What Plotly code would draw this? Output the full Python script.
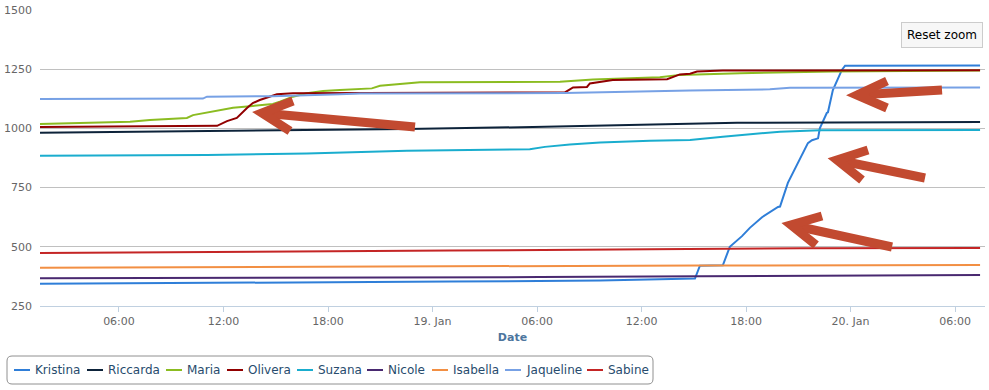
import plotly.graph_objects as go

# ---------------- data ----------------
names = ["Kristina", "Riccarda", "Maria", "Olivera", "Suzana",
         "Nicole", "Isabella", "Jaqueline", "Sabine"]
colors = ["#2f7ed8", "#0d233a", "#8bbc21", "#910000", "#1aadce",
          "#492970", "#f28f43", "#77a1e5", "#c42525"]

kristina_t = ["2016-01-18 01:28", "2016-01-18 13:31", "2016-01-19 01:00", "2016-01-19 09:37",
              "2016-01-19 15:04", "2016-01-19 15:21", "2016-01-19 16:40", "2016-01-19 17:04",
              "2016-01-19 17:46", "2016-01-19 18:13", "2016-01-19 18:55", "2016-01-19 19:50",
              "2016-01-19 19:57", "2016-01-19 20:24", "2016-01-19 20:59", "2016-01-19 21:33",
              "2016-01-19 21:47", "2016-01-19 22:08", "2016-01-19 22:14", "2016-01-19 22:38",
              "2016-01-19 22:42", "2016-01-19 22:59", "2016-01-19 23:30", "2016-01-19 23:41",
              "2016-01-20 07:26"]
kristina_v = [344, 348, 353, 358, 366, 420, 422, 500, 545, 580, 625, 668,
              670, 770, 853, 938, 950, 958, 1000, 1065, 1068, 1162, 1247, 1265, 1266]

riccarda_t = ["2016-01-18 01:28", "2016-01-18 06:14", "2016-01-18 14:50", "2016-01-18 22:32",
              "2016-01-19 05:46", "2016-01-19 09:13", "2016-01-19 11:10", "2016-01-19 14:36",
              "2016-01-19 17:29", "2016-01-20 07:26"]
riccarda_v = [982, 986, 990, 997, 1006, 1011, 1014, 1017, 1024, 1027]

maria_t = ["2016-01-18 01:28", "2016-01-18 06:38", "2016-01-18 07:47", "2016-01-18 09:54",
           "2016-01-18 10:15", "2016-01-18 11:24", "2016-01-18 12:33", "2016-01-18 13:41",
           "2016-01-18 14:50", "2016-01-18 15:14", "2016-01-18 15:59", "2016-01-18 16:47",
           "2016-01-18 17:43", "2016-01-18 18:41", "2016-01-18 20:25", "2016-01-18 20:31",
           "2016-01-18 20:59", "2016-01-18 22:08", "2016-01-18 23:17", "2016-01-19 07:19",
           "2016-01-19 09:13", "2016-01-19 13:03", "2016-01-19 14:12", "2016-01-19 17:39",
           "2016-01-19 22:59", "2016-01-20 07:26"]
maria_v = [1019, 1028, 1035, 1044, 1056, 1073, 1087, 1095, 1103, 1113, 1134, 1148,
           1158, 1162, 1166, 1169, 1180, 1187, 1195, 1197, 1206, 1216, 1226, 1233, 1240, 1244]

olivera_t = ["2016-01-18 01:28", "2016-01-18 11:24", "2016-01-18 11:38", "2016-01-18 12:12",
             "2016-01-18 12:46", "2016-01-18 13:21", "2016-01-18 13:41", "2016-01-18 14:05",
             "2016-01-18 14:40", "2016-01-18 15:04", "2016-01-18 15:59", "2016-01-19 07:36",
             "2016-01-19 08:04", "2016-01-19 08:52", "2016-01-19 09:02", "2016-01-19 09:47",
             "2016-01-19 10:21", "2016-01-19 13:28", "2016-01-19 14:12", "2016-01-19 14:47",
             "2016-01-19 15:11", "2016-01-19 16:40", "2016-01-20 07:26"]
olivera_v = [1006, 1008, 1011, 1031, 1044, 1086, 1107, 1120, 1134, 1144, 1148, 1152,
             1173, 1175, 1190, 1197, 1204, 1208, 1228, 1231, 1240, 1244, 1246]

suzana_t = ["2016-01-18 01:28", "2016-01-18 11:03", "2016-01-18 16:47", "2016-01-18 22:32",
            "2016-01-19 05:35", "2016-01-19 06:27", "2016-01-19 07:53", "2016-01-19 09:37",
            "2016-01-19 12:29", "2016-01-19 14:47", "2016-01-19 16:40", "2016-01-19 19:57",
            "2016-01-19 22:14", "2016-01-20 07:26"]
suzana_v = [885, 888, 894, 906, 912, 922, 932, 940, 948, 951, 965, 986, 992, 993]

nicole_t = ["2016-01-18 01:28", "2016-01-18 16:23", "2016-01-19 06:10", "2016-01-19 15:21",
            "2016-01-19 22:14", "2016-01-20 07:26"]
nicole_v = [367, 369, 372, 376, 379, 381]

isabella_t = ["2016-01-18 01:28", "2016-01-18 16:23", "2016-01-19 06:10", "2016-01-19 15:21",
              "2016-01-20 07:26"]
isabella_v = [412, 416, 419, 421, 423]

jaqueline_t = ["2016-01-18 01:28", "2016-01-18 10:49", "2016-01-18 11:03", "2016-01-18 14:50",
               "2016-01-18 18:41", "2016-01-18 19:50", "2016-01-19 07:36", "2016-01-19 13:03",
               "2016-01-19 14:47", "2016-01-19 19:22", "2016-01-19 20:31", "2016-01-20 07:26"]
jaqueline_v = [1124, 1126, 1134, 1136, 1144, 1147, 1149, 1158, 1160, 1165, 1172, 1173]

sabine_t = ["2016-01-18 01:28", "2016-01-18 13:31", "2016-01-19 01:00", "2016-01-19 12:29",
            "2016-01-19 21:05", "2016-01-20 07:26"]
sabine_v = [474, 478, 484, 490, 494, 495]

series_t = [kristina_t, riccarda_t, maria_t, olivera_t, suzana_t,
            nicole_t, isabella_t, jaqueline_t, sabine_t]
series_v = [kristina_v, riccarda_v, maria_v, olivera_v, suzana_v,
            nicole_v, isabella_v, jaqueline_v, sabine_v]

tick_vals = ["2016-01-18 06:00", "2016-01-18 12:00", "2016-01-18 18:00", "2016-01-19 00:00",
             "2016-01-19 06:00", "2016-01-19 12:00", "2016-01-19 18:00", "2016-01-20 00:00",
             "2016-01-20 06:00"]
tick_text = ["06:00", "12:00", "18:00", "19. Jan", "06:00", "12:00", "18:00", "20. Jan", "06:00"]
x_range = ["2016-01-18 01:28", "2016-01-20 07:43"]
y_ticks = [250, 500, 750, 1000, 1250, 1500]

# ---------------- layout helpers (pixel -> paper) ----------------
W, H = 989, 390
L, R, T, B = 40, 985, 10, 306


def px(x):
    return (x - L) / (R - L)


def py(y):
    return (B - y) / (B - T)


FONT = "DejaVu Sans"
fig = go.Figure()
for n, c, t, v in zip(names, colors, series_t, series_v):
    fig.add_trace(go.Scatter(x=t, y=v, name=n, mode="lines",
                             line=dict(color=c, width=2), showlegend=False))

shapes = []
annotations = []

# custom legend (Highcharts-like compact legend)
legend_box = (7, 356, 653, 384)
x0, y0, x1, y1 = legend_box
r = 5
rx, ry = r / (R - L), r / (B - T)
X0, X1, Y0, Y1 = px(x0), px(x1), py(y0), py(y1)
path = (f"M {X0+rx},{Y0} L {X1-rx},{Y0} Q {X1},{Y0} {X1},{Y0-ry} "
        f"L {X1},{Y1+ry} Q {X1},{Y1} {X1-rx},{Y1} L {X0+rx},{Y1} "
        f"Q {X0},{Y1} {X0},{Y1+ry} L {X0},{Y0-ry} Q {X0},{Y0} {X0+rx},{Y0} Z")
shapes.append(dict(type="path", xref="paper", yref="paper", path=path,
                   line=dict(color="#909090", width=1), fillcolor="white", layer="above"))
legend_starts = [14, 87, 166, 227, 297, 367, 432, 505, 587]
ly = 370
for n, c, s in zip(names, colors, legend_starts):
    shapes.append(dict(type="line", xref="paper", yref="paper",
                       x0=px(s), x1=px(s + 16), y0=py(ly), y1=py(ly),
                       line=dict(color=c, width=2), layer="above"))
    annotations.append(dict(text=n, xref="paper", yref="paper", x=px(s + 19), y=py(ly),
                            xanchor="left", yanchor="middle", showarrow=False,
                            font=dict(family=FONT, size=12, color="#274b6d")))

# reset zoom button
annotations.append(dict(text="Reset zoom", xref="paper", yref="paper",
                        x=px(941.5), y=py(34.5), xanchor="center", yanchor="middle",
                        showarrow=False, bgcolor="#f7f7f7", bordercolor="#cccccc",
                        borderwidth=1, borderpad=5,
                        font=dict(family=FONT, size=12, color="black")))

# hand-drawn red arrows overlay: tail, tip, wing1, wing2 (pixels)
arrows = [
    ((415, 127), (262, 113), (293, 101), (290, 131)),
    ((942, 90), (857, 95), (887, 81), (887, 108)),
    ((925, 178), (837, 160), (868, 150), (862, 180)),
    ((892, 247), (791, 225), (822, 216), (816, 245)),
]
AC = "#c24a30"
for tail, tip, w1, w2 in arrows:
    shapes.append(dict(type="line", xref="paper", yref="paper",
                       x0=px(tail[0]), y0=py(tail[1]), x1=px(tip[0]), y1=py(tip[1]),
                       line=dict(color=AC, width=9), layer="above"))
    p = (f"M {px(w1[0])},{py(w1[1])} L {px(tip[0])},{py(tip[1])} "
         f"L {px(w2[0])},{py(w2[1])}")
    shapes.append(dict(type="path", xref="paper", yref="paper", path=p,
                       line=dict(color=AC, width=9), layer="above"))

fig.update_layout(
    width=W, height=H,
    margin=dict(l=L, r=W - R, t=T, b=H - B),
    paper_bgcolor="white", plot_bgcolor="white",
    font=dict(family=FONT, size=11, color="#666666"),
    shapes=shapes, annotations=annotations,
    showlegend=False,
    xaxis=dict(type="date", range=x_range, tickmode="array",
               tickvals=tick_vals, ticktext=tick_text,
               showgrid=False, zeroline=False,
               showline=True, linecolor="#C0D0E0", linewidth=1,
               ticks="outside", ticklen=5, tickcolor="#C0D0E0",
               tickfont=dict(family=FONT, size=11, color="#666666"),
               title=dict(text="Date", standoff=6,
                          font=dict(family=FONT, size=11, color="#4d759e", weight="bold"))),
    yaxis=dict(range=[250, 1500], tickmode="array", tickvals=y_ticks,
               showgrid=True, gridcolor="#C0C0C0", gridwidth=1,
               zeroline=False, showline=False, ticks="",
               ticklabelstandoff=7,
               tickfont=dict(family=FONT, size=11, color="#666666")),
)

fig.write_html("out.html", config={"displayModeBar": False},
               post_script="document.body.style.margin='0';document.body.style.overflow='hidden';")
